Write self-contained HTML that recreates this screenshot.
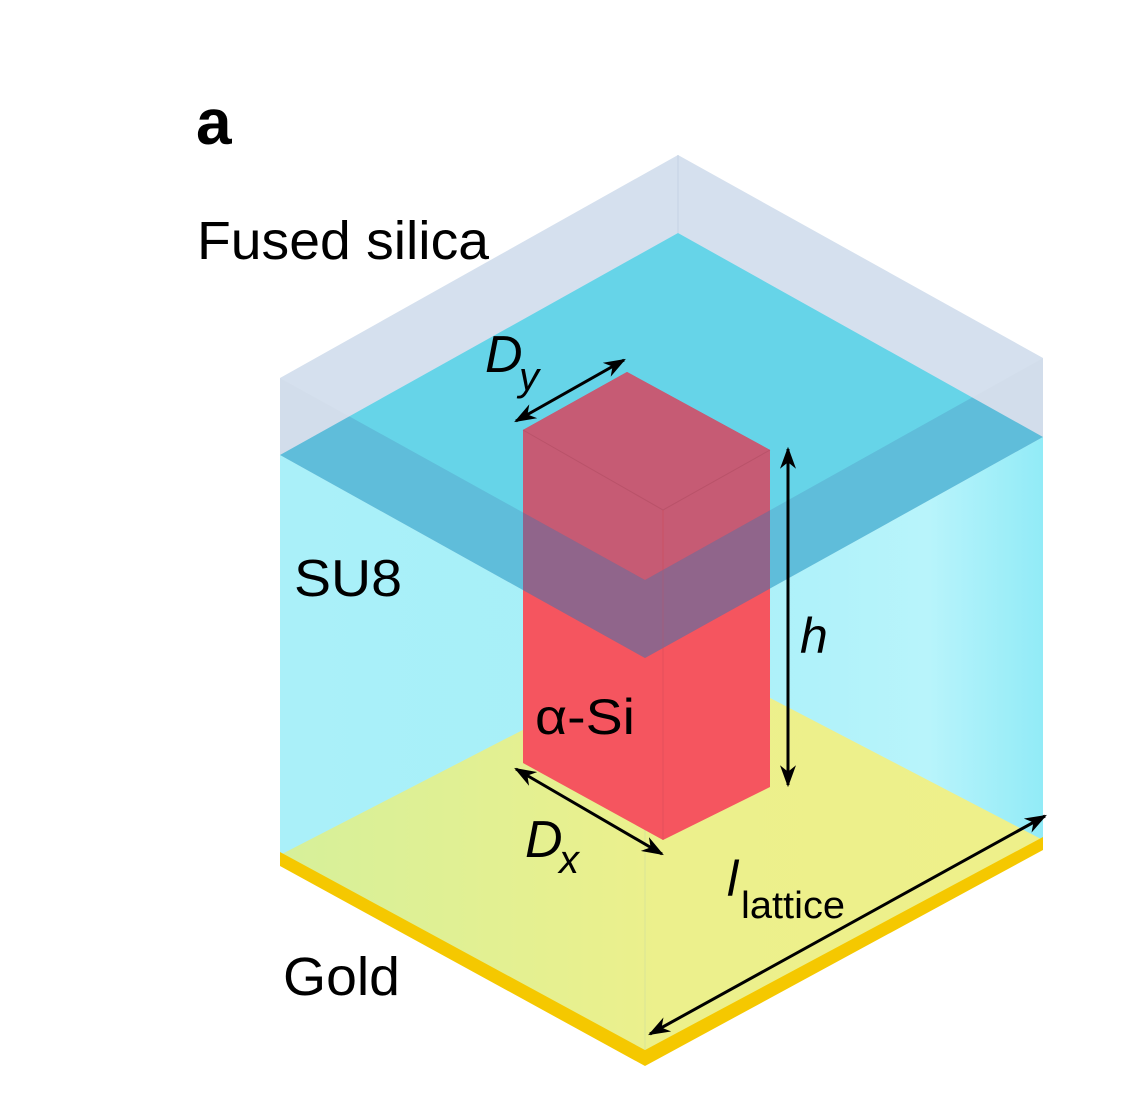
<!DOCTYPE html>
<html><head><meta charset="utf-8"><style>
html,body{margin:0;padding:0;background:#fff;}
svg{display:block;}
text{font-family:"Liberation Sans",sans-serif;fill:#000;}
</style></head><body>
<svg width="1136" height="1116" viewBox="0 0 1136 1116" xmlns="http://www.w3.org/2000/svg">
<defs>
<linearGradient id="su8" x1="0" y1="0" x2="1" y2="0">
<stop offset="0" stop-color="#aaf0f9"/><stop offset="0.5" stop-color="#a6eff8"/><stop offset="0.85" stop-color="#b8f4fb"/><stop offset="1" stop-color="#92ebf7"/>
</linearGradient>
<linearGradient id="gold" x1="0" y1="0" x2="1" y2="0">
<stop offset="0" stop-color="#d6f09a"/><stop offset="0.5" stop-color="#ecf08c"/><stop offset="1" stop-color="#eef08a"/>
</linearGradient>
<clipPath id="aboveBottom"><polygon points="0,0 1136,0 1136,437 1043,437 645,658 280,455 0,455"/></clipPath>
<clipPath id="aboveTop"><polygon points="0,0 1136,0 1136,358 1043,358 645,580 280,378 0,378"/></clipPath>
<marker id="ah" viewBox="0 0 10 10" refX="9" refY="5" markerWidth="22" markerHeight="16" orient="auto-start-reverse" markerUnits="userSpaceOnUse" preserveAspectRatio="none"><path d="M0,0 L10,5 L0,10 L3,5 z" fill="#000"/></marker>
</defs>

<polygon points="280,378 678,155 1043,358 645,580" fill="#d5e0ee"/>
<polygon points="280,455 645,658 1043,437 1043,840 645,1050 280,855" fill="url(#su8)"/>
<polygon points="280,455 678,233 1043,437 645,658" fill="#66d4e8"/>
<polygon points="280,855 678,650 1043,840 645,1050" fill="url(#gold)"/>
<polygon points="280,852 645,1050 1043,837 1043,850 645,1066 280,866" fill="#f5c800"/>
<line x1="645" y1="658" x2="645" y2="1050" stroke="#c8dca0" stroke-width="1" opacity="0.5"/>
<line x1="678" y1="155" x2="678" y2="233" stroke="#c5d2e4" stroke-width="1"/>

<polygon points="523,430 627,372 770,450 770,787 663,840 523,763" fill="#f5555f"/>
<polygon points="523,430 627,372 770,450 770,787 663,840 523,763" fill="#a75f7f" clip-path="url(#aboveBottom)"/>
<polygon points="523,430 627,372 770,450 770,787 663,840 523,763" fill="#c65b74" clip-path="url(#aboveTop)"/>
<polyline points="523,430 663,510 770,450" fill="none" stroke="#b04c62" stroke-width="1" opacity="0.6"/>
<line x1="663" y1="510" x2="663" y2="840" stroke="#d04a58" stroke-width="1" opacity="0.5"/>

<polygon points="280,378 645,580 1043,358 1043,437 645,658 280,455" fill="rgb(75,120,176)" fill-opacity="0.25"/>

<g stroke="#000" stroke-width="3" fill="none">
<line x1="516" y1="421" x2="624" y2="360" marker-start="url(#ah)" marker-end="url(#ah)"/>
<line x1="788" y1="449" x2="788" y2="785" marker-start="url(#ah)" marker-end="url(#ah)"/>
<line x1="516" y1="769" x2="662" y2="854" marker-start="url(#ah)" marker-end="url(#ah)"/>
<line x1="650" y1="1034" x2="1045" y2="816" marker-start="url(#ah)" marker-end="url(#ah)"/>
</g>

<text x="196" y="144" font-size="64" font-weight="bold">a</text>
<text x="197" y="259" font-size="54" textLength="292" lengthAdjust="spacingAndGlyphs">Fused silica</text>
<text x="294" y="596" font-size="52" textLength="108" lengthAdjust="spacingAndGlyphs">SU8</text>
<text x="535" y="734" font-size="50" textLength="100" lengthAdjust="spacingAndGlyphs">α-Si</text>
<text x="283" y="995" font-size="54" textLength="117" lengthAdjust="spacingAndGlyphs">Gold</text>
<text x="800" y="653" font-size="50" font-style="italic">h</text>
<text x="485" y="372" font-size="52" font-style="italic">D</text>
<text x="519" y="390" font-size="40" font-style="italic">y</text>
<text x="525" y="857" font-size="52" font-style="italic">D</text>
<text x="559" y="873" font-size="40" font-style="italic">x</text>
<text x="727" y="896" font-size="50" font-style="italic">l</text>
<text x="741" y="918" font-size="38" textLength="104" lengthAdjust="spacingAndGlyphs">lattice</text>
</svg>
</body></html>
